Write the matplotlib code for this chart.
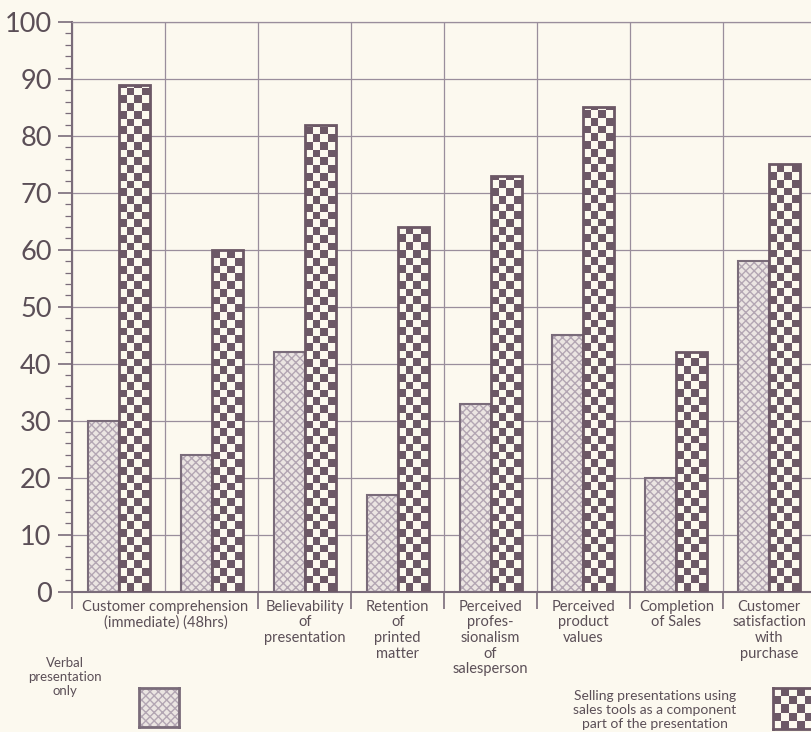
import numpy as np
import matplotlib.pyplot as plt
from matplotlib.colors import ListedColormap
from matplotlib.patches import Rectangle

plt.rcParams['font.family'] = ['Lato', 'DejaVu Sans']

# values (percent)
groups = ['Customer comprehension (immediate)', 'Customer comprehension (48hrs)',
          'Believability of presentation', 'Retention of printed matter',
          'Perceived professionalism of salesperson', 'Perceived product values',
          'Completion of Sales', 'Customer satisfaction with purchase']
verbal = [30, 24, 42, 17, 33, 45, 20, 58]
tools = [89, 60, 82, 64, 73, 85, 42, 75]

# axis labels under the bars (first one covers two groups)
labels = ['Customer comprehension\n(immediate) (48hrs)', 'Believability\nof\npresentation',
          'Retention\nof\nprinted\nmatter', 'Perceived\nprofes-\nsionalism\nof\nsalesperson',
          'Perceived\nproduct\nvalues', 'Completion\nof Sales',
          'Customer\nsatisfaction\nwith\npurchase']
label_pos = [1, 2.5, 3.5, 4.5, 5.5, 6.5, 7.5]

bg = '#fcf9ef'
ink = '#5b4f57'
line = '#7a6c7a'
grid = '#9a8e9c'
dark = '#6c5866'
hatch_c = '#b3a6b3'
cmap = ListedColormap([bg, dark])


def checker(ax, patch, ncols, sq_h, z):
    x0, w, h = patch.get_x(), patch.get_width(), patch.get_height()
    nrows = int(np.ceil(h / sq_h))
    img = np.add.outer(np.arange(nrows), np.arange(ncols)) % 2
    im = ax.imshow(img, cmap=cmap, extent=(x0, x0 + w, 0, nrows * sq_h), origin='lower',
                   aspect='auto', interpolation='nearest', zorder=z)
    im.set_clip_path(patch)


fig = plt.figure(figsize=(8.12, 7.32), dpi=100)
fig.patch.set_facecolor(bg)
ax = fig.add_axes([72.5 / 812, (732 - 591.5) / 732, 743.2 / 812, 569.5 / 732])
ax.set_facecolor(bg)
ax.set_xlim(0, 8)
ax.set_ylim(0, 100)

x = np.arange(len(groups)) + 0.5
w = 1 / 3

ax.bar(x - w / 2, verbal, w, facecolor='#ebe5e2', edgecolor=hatch_c, hatch='xxxx', lw=0, zorder=2)
ax.bar(x - w / 2, verbal, w, fill=False, edgecolor=line, lw=1.5, zorder=3)

tb = ax.bar(x + w / 2, tools, w, facecolor=bg, lw=0, zorder=2)
px_x = ax.transData.transform((1, 0))[0] - ax.transData.transform((0, 0))[0]
px_y = ax.transData.transform((0, 1))[1] - ax.transData.transform((0, 0))[1]
sq_h = (w / 4) * px_x / px_y
for p in tb:
    checker(ax, p, 4, sq_h, 3)
ax.bar(x + w / 2, tools, w, fill=False, edgecolor=dark, lw=2, zorder=4)

ax.set_xlim(0, 8)
ax.set_ylim(0, 100)

# grid and axes
ax.set_yticks(range(0, 101, 10))
ax.set_yticks(range(0, 101, 2), minor=True)
ax.set_xticks(range(0, 9))
ax.set_xticklabels([])
ax.grid(which='major', color=grid, lw=0.9, zorder=0)
ax.set_axisbelow(True)
ax.tick_params(axis='y', which='major', length=10, width=1.2, color=line, labelsize=19.5,
               labelcolor=ink, pad=5)
ax.tick_params(axis='y', which='minor', length=5, width=0.9, color=line)
ax.tick_params(axis='x', which='major', length=12, width=1.2, color=line)
ax.xaxis.get_major_ticks()[1].tick1line.set_visible(False)

ax.xaxis.remove_overlapping_locs = False
ax.set_xticks(label_pos, minor=True)
ax.set_xticklabels(labels, minor=True)
ax.tick_params(axis='x', which='minor', length=0, labelsize=10.5, labelcolor=ink, pad=6)
for t in ax.get_xticklabels(minor=True):
    t.set_linespacing(1.15)

for s in ['left', 'bottom']:
    ax.spines[s].set_color(line)
    ax.spines[s].set_linewidth(1.5)
ax.spines['top'].set_color(grid)
ax.spines['top'].set_linewidth(0.9)
ax.spines['right'].set_visible(False)

# legend
fig.text(65 / 812, 1 - 677 / 732, 'Verbal\npresentation\nonly', ha='center', va='center',
         fontsize=9.5, color=ink, linespacing=1.2)
sw1 = fig.add_axes([139 / 812, (732 - 727) / 732, 40 / 812, 39 / 732])
sw1.add_patch(Rectangle((0, 0), 1, 1, facecolor='#ebe5e2', edgecolor=hatch_c, hatch='xxxx', lw=0))
sw1.set_xlim(0, 1)
sw1.set_ylim(0, 1)
for s in sw1.spines.values():
    s.set_color(line)
    s.set_linewidth(2)
sw1.set_xticks([])
sw1.set_yticks([])

fig.text(655 / 812, 1 - 710 / 732,
         'Selling presentations using\nsales tools as a component\npart of the presentation',
         ha='center', va='center', fontsize=10, color=ink, linespacing=1.15)
sw2 = fig.add_axes([773 / 812, (732 - 729) / 732, 40 / 812, 41 / 732])
sw2.imshow(np.add.outer(np.arange(5), np.arange(5)) % 2, cmap=cmap, aspect='auto',
           interpolation='nearest')
for s in sw2.spines.values():
    s.set_color(dark)
    s.set_linewidth(2)
sw2.set_xticks([])
sw2.set_yticks([])

fig.savefig('out.png', dpi=100, facecolor=bg)
